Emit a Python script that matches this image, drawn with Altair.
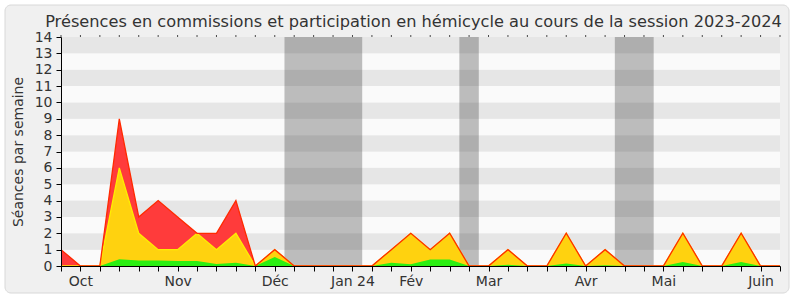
import altair as alt
import pandas as pd

# week index 0 = week of 25 Sept 2023 ... 37 = week of 10 June 2024
weeks = list(range(38))
presence = [1, 0, 0, 9, 3, 4, 3, 2, 2, 4, 0, 1, 0, 0, 0, 0, 0, 1, 2, 1,
            2, 0, 0, 1, 0, 0, 2, 0, 1, 0, 0, 0, 2, 0, 0, 2, 0, 0]
participation = [0, 0, 0, 6, 2, 1, 1, 2, 1, 2, 0, 1, 0, 0, 0, 0, 0, 1, 2, 1,
                 2, 0, 0, 1, 0, 0, 2, 0, 1, 0, 0, 0, 2, 0, 0, 2, 0, 0]
hemicycle = [0, 0, 0, 0.42, 0.33, 0.34, 0.3, 0.3, 0.12, 0.2, 0, 0.55, 0, 0, 0, 0, 0, 0.2, 0.1, 0.4,
             0.4, 0, 0, 0.08, 0, 0, 0.15, 0, 0.05, 0, 0, 0, 0.25, 0, 0, 0.25, 0, 0]

month_labels = ["Oct", "Nov", "Déc", "Jan 24", "Fév", "Mar", "Avr", "Mai", "Juin"]
month_pos = [1, 6, 11, 15, 18, 22, 27, 31, 36]

holiday_start = [11.5, 20.5, 28.5]
holiday_end = [15.5, 21.5, 30.5]

title_text = "Présences en commissions et participation en hémicycle au cours de la session 2023-2024"

y_max = 14
y_ticks = list(range(y_max + 1))

df = pd.DataFrame({"w": weeks, "p": presence, "c": participation, "h": hemicycle})
stripes = pd.DataFrame({
    "lo": list(range(y_max)),
    "hi": [k + 1 for k in range(y_max)],
    "band": ["g" if k % 2 else "w" for k in range(y_max)],
})
hol = pd.DataFrame({"s": holiday_start, "e": holiday_end})

W, H = 719, 229
FONT = "DejaVu Sans"

label_expr = ""
for pos, lab in zip(month_pos, month_labels):
    label_expr += f"datum.value == {pos} ? '{lab}' : "
label_expr += "''"

xscale = alt.Scale(domain=[0, 37], nice=False, zero=False)
yscale = alt.Scale(domain=[0, y_max], nice=False)

x_axis = alt.Axis(values=weeks, labelExpr=label_expr, title=None, tickSize=5,
                  labelFontSize=14, labelColor="#333333", labelFont=FONT,
                  domainColor="#000000", tickColor="#000000", labelOverlap=False,
                  labelFlush=False, grid=False, labelPadding=3, zindex=1)
y_axis = alt.Axis(values=y_ticks, tickCount=15, title="Séances par semaine", tickSize=5,
                  labelFontSize=14, labelColor="#333333", labelFont=FONT,
                  titleFont=FONT, titleFontSize=14, titleFontWeight="normal",
                  titleColor="#333333", titlePadding=9, domainColor="#000000",
                  tickColor="#000000", grid=False, labelPadding=4, zindex=1,
                  labelOverlap=False, labelFlush=False, format="d")

frame = alt.Chart(pd.DataFrame({"a": [0]})).mark_rect(
    fill="#f0f0f0", stroke="#d8d8d8", strokeWidth=1, cornerRadius=6
).encode(x=alt.value(-56), x2=alt.value(W + 9), y=alt.value(-32), y2=alt.value(H + 27))

title_layer = alt.Chart(pd.DataFrame({"t": [title_text]})).mark_text(
    font=FONT, fontSize=16.2, color="#333333", align="center", baseline="alphabetic"
).encode(text="t:N", x=alt.value(W / 2 - 7), y=alt.value(-10))

stripe_layer = alt.Chart(stripes).mark_rect().encode(
    x=alt.value(0), x2=alt.value(W),
    y=alt.Y("lo:Q", scale=yscale, axis=y_axis),
    y2="hi:Q",
    color=alt.Color("band:N", scale=alt.Scale(domain=["w", "g"], range=["#fafafa", "#e6e6e6"]), legend=None),
)

hol_layer = alt.Chart(hol).mark_rect(color="#2f2f2f", opacity=0.3).encode(
    x=alt.X("s:Q", scale=xscale, axis=x_axis), x2="e:Q",
    y=alt.value(0), y2=alt.value(H),
)

base = alt.Chart(df).encode(x=alt.X("w:Q", scale=xscale, axis=x_axis))

top_ticks = base.mark_tick(color="#000000", size=2, thickness=1, orient="vertical").encode(
    y=alt.value(-1)
)


def ycol(col):
    return alt.Y(f"{col}:Q", scale=yscale, axis=y_axis)


red_area = base.mark_area(color="#ff3b3b", interpolate="linear").encode(y=ycol("p"))
yel_area = base.mark_area(color="#ffd20f", interpolate="linear").encode(y=ycol("c"))
grn_area = base.mark_area(color="#2bef12", interpolate="linear").encode(y=ycol("h"))
yel_line = base.mark_line(color="#ffee00", strokeWidth=1.3).encode(y=ycol("c"))
red_line = base.mark_line(color="#ff2a00", strokeWidth=1.3).encode(y=ycol("p"))

chart = alt.layer(
    frame, title_layer, stripe_layer, hol_layer, top_ticks,
    red_area, yel_area, grn_area, yel_line, red_line
).properties(
    width=W, height=H,
    autosize=alt.AutoSizeParams(type="none"),
    padding={"left": 61, "top": 37, "right": 20, "bottom": 34},
).configure_view(stroke=None).configure(background="#ffffff")

chart.save("out.html", embed_options={"renderer": "svg", "actions": False})
